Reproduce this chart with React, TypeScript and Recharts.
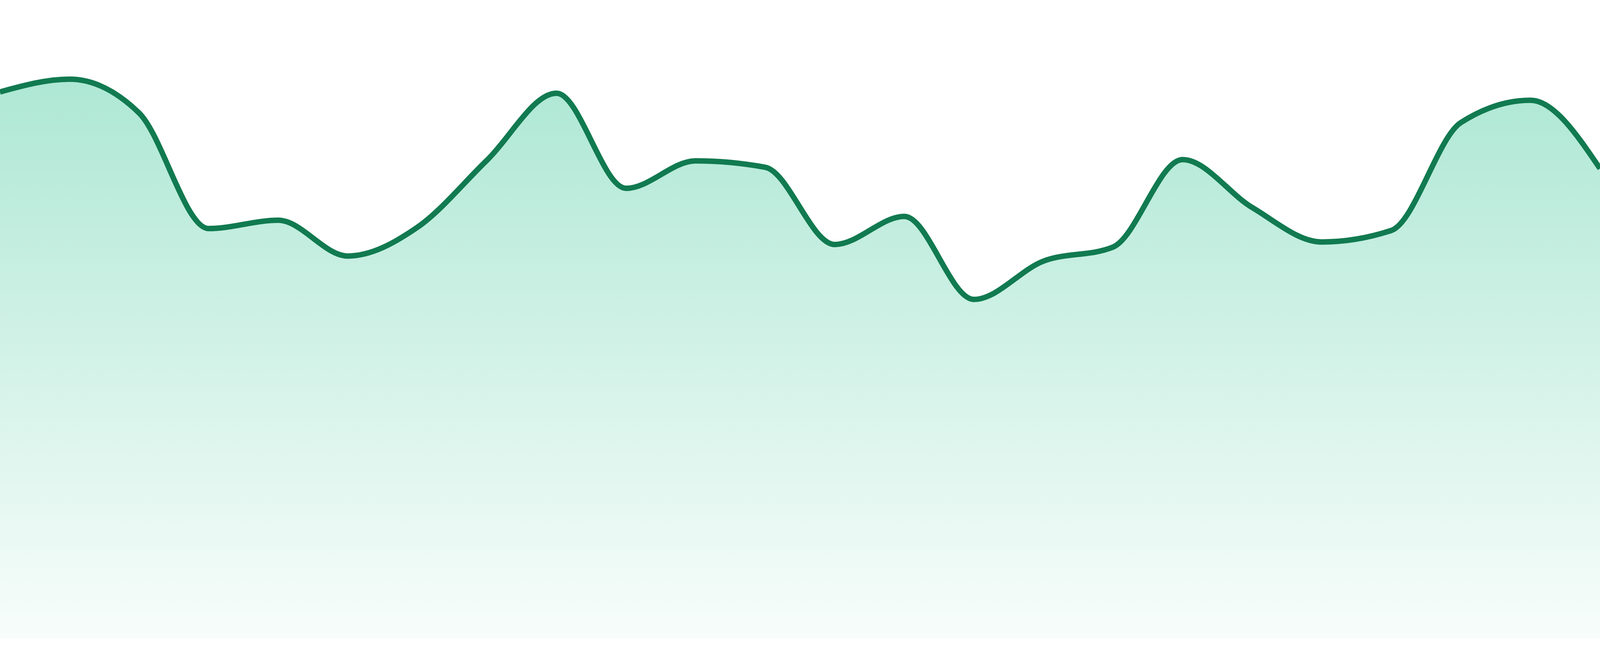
import { AreaChart, Area, XAxis, YAxis } from "recharts";

// one sample per step, left to right
const steps = [
  "1", "2", "3", "4", "5", "6", "7", "8", "9", "10", "11", "12",
  "13", "14", "15", "16", "17", "18", "19", "20", "21", "22", "23", "24",
];

const values = [
  85.6, 87.6, 82.3, 64.2, 65.5, 59.9, 64.4, 74.9, 85.4, 70.5, 74.8, 73.8,
  61.7, 66.1, 53.1, 59.1, 61.3, 75.0, 67.5, 62.1, 63.9, 80.8, 84.3, 73.6,
];

const yDomain = [0, 100];

const data = steps.map((step, i) => ({ step, value: values[i] }));

const STROKE = "#117a50";
const FILL = "#10b981";

// fill the visible page (the screenshot is taken of the viewport)
const W = (typeof window !== "undefined" && window.innerWidth) || 4800;
const H = (typeof window !== "undefined" && window.innerHeight) || 1680;

export default function App() {
  return (
    <div
      style={{
        position: "absolute",
        left: 0,
        top: 0,
        width: W,
        height: H,
        overflow: "hidden",
        background: "#fff",
      }}
    >
      <AreaChart
        width={W}
        height={H}
        data={data}
        margin={{ top: 0, right: 0, bottom: Math.round((H * 45) / 1680), left: 0 }}
      >
        <defs>
          <linearGradient id="areaFill" x1="0" y1="0" x2="0" y2="1">
            <stop offset="0%" stopColor={FILL} stopOpacity={0.34} />
            <stop offset="100%" stopColor={FILL} stopOpacity={0.03} />
          </linearGradient>
        </defs>
        <XAxis dataKey="step" hide />
        <YAxis domain={yDomain} hide />
        <Area
          type="monotone"
          dataKey="value"
          stroke={STROKE}
          strokeWidth={(H * 14) / 1680}
          fill="url(#areaFill)"
          fillOpacity={1}
          dot={false}
          activeDot={false}
          isAnimationActive={false}
        />
      </AreaChart>
    </div>
  );
}
